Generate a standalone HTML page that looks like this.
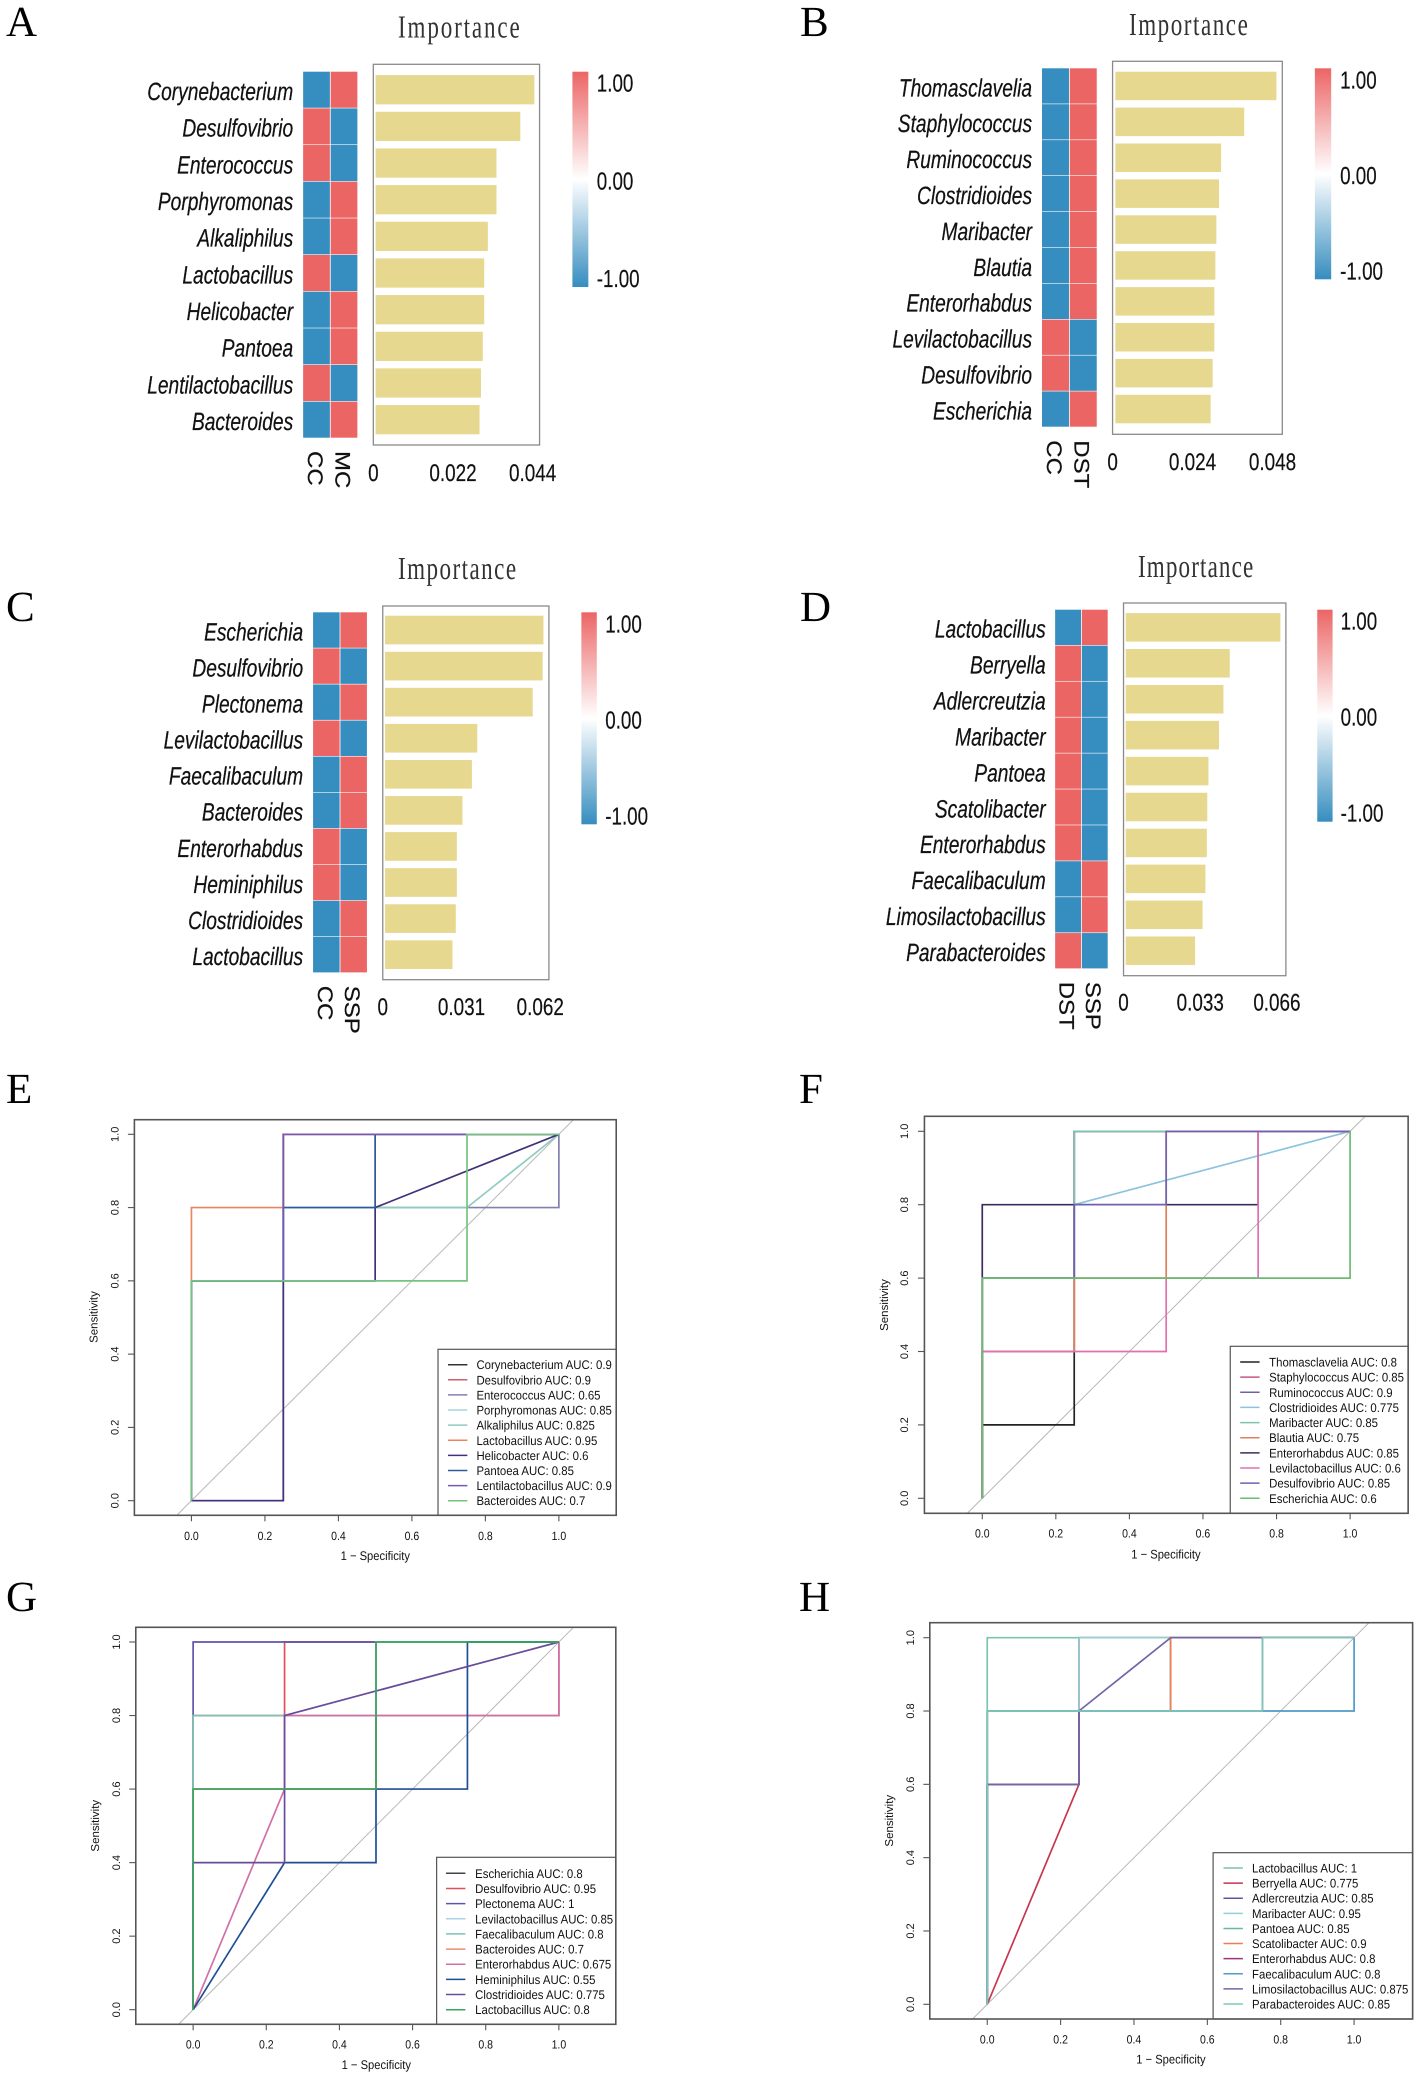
<!DOCTYPE html>
<html lang="en">
<head>
<meta charset="utf-8">
<title>Importance heatmaps and ROC curves</title>
<style>
html,body{margin:0;padding:0;background:#fff;}
body{width:1418px;height:2079px;overflow:hidden;}
svg{display:block;}
text{font-family:"Liberation Sans",sans-serif;fill:#111;text-rendering:geometricPrecision;}
.letter{font-family:"Liberation Serif",serif;font-size:43px;fill:#000;}
.imp{font-family:"Liberation Serif",serif;font-size:32px;fill:#333;}
</style>
</head>
<body>
<svg id="figure" xmlns="http://www.w3.org/2000/svg" width="1418" height="2079" viewBox="0 0 1418 2079">
<defs>
<linearGradient id="cbar" x1="0" y1="0" x2="0" y2="1">
<stop offset="0" stop-color="#ec6565"/><stop offset="0.5" stop-color="#ffffff"/><stop offset="1" stop-color="#368dbf"/>
</linearGradient>
</defs>
<rect width="1418" height="2079" fill="#fff"/>
<text class="letter" x="6" y="36">A</text>
<text class="letter" x="800" y="36">B</text>
<text class="letter" x="6" y="621">C</text>
<text class="letter" x="800" y="621">D</text>
<text class="letter" x="6" y="1103">E</text>
<text class="letter" x="799" y="1103">F</text>
<text class="letter" x="6" y="1611">G</text>
<text class="letter" x="799" y="1611">H</text>
<text class="imp" transform="translate(398,37.5) scale(.72,1)" textLength="169" lengthAdjust="spacing">Importance</text>
<text class="imp" transform="translate(1129,35) scale(.72,1)" textLength="165" lengthAdjust="spacing">Importance</text>
<text class="imp" transform="translate(398,579) scale(.72,1)" textLength="164" lengthAdjust="spacing">Importance</text>
<text class="imp" transform="translate(1138,577) scale(.72,1)" textLength="160" lengthAdjust="spacing">Importance</text>
</svg>
<script>
/* ---------- Panel data: importance charts ---------- */
const panelAGenera = ['Corynebacterium','Desulfovibrio','Enterococcus','Porphyromonas','Alkaliphilus','Lactobacillus','Helicobacter','Pantoea','Lentilactobacillus','Bacteroides'];
const panelAImportance = [0.0440,0.0401,0.0335,0.0335,0.0311,0.0301,0.0301,0.0297,0.0292,0.0288];
const panelAGroups = ['CC','MC'];
const panelAFirst = [-1,1,1,-1,-1,1,-1,-1,1,-1];
const panelASecond = [1,-1,-1,1,1,-1,1,1,-1,1];
const panelATicks = [0,0.022,0.044];
const panelATickLabels = ['0','0.022','0.044'];

const panelBGenera = ['Thomasclavelia','Staphylococcus','Ruminococcus','Clostridioides','Maribacter','Blautia','Enterorhabdus','Levilactobacillus','Desulfovibrio','Escherichia'];
const panelBImportance = [0.0480,0.0384,0.0315,0.0309,0.0301,0.0298,0.0295,0.0295,0.0290,0.0284];
const panelBGroups = ['CC','DST'];
const panelBFirst = [-1,-1,-1,-1,-1,-1,-1,1,1,-1];
const panelBSecond = [1,1,1,1,1,1,1,-1,-1,1];
const panelBTicks = [0,0.024,0.048];
const panelBTickLabels = ['0','0.024','0.048'];

const panelCGenera = ['Escherichia','Desulfovibrio','Plectonema','Levilactobacillus','Faecalibaculum','Bacteroides','Enterorhabdus','Heminiphilus','Clostridioides','Lactobacillus'];
const panelCImportance = [0.0620,0.0617,0.0578,0.0361,0.0340,0.0303,0.0281,0.0281,0.0277,0.0264];
const panelCGroups = ['CC','SSP'];
const panelCFirst = [-1,1,-1,1,-1,-1,1,1,-1,-1];
const panelCSecond = [1,-1,1,-1,1,1,-1,-1,1,1];
const panelCTicks = [0,0.031,0.062];
const panelCTickLabels = ['0','0.031','0.062'];

const panelDGenera = ['Lactobacillus','Berryella','Adlercreutzia','Maribacter','Pantoea','Scatolibacter','Enterorhabdus','Faecalibaculum','Limosilactobacillus','Parabacteroides'];
const panelDImportance = [0.0660,0.0444,0.0417,0.0398,0.0353,0.0348,0.0346,0.0340,0.0328,0.0296];
const panelDGroups = ['DST','SSP'];
const panelDFirst = [-1,1,1,1,1,1,1,-1,-1,1];
const panelDSecond = [1,-1,-1,-1,-1,-1,-1,1,1,-1];
const panelDTicks = [0,0.033,0.066];
const panelDTickLabels = ['0','0.033','0.066'];

const colorbarTicks = [1,0,-1];
const colorbarTickLabels = ['1.00','0.00','-1.00'];

/* ---------- Panel data: ROC charts ---------- */
const rocTicks = [0,0.2,0.4,0.6,0.8,1];
const rocTickLabels = ['0.0','0.2','0.4','0.6','0.8','1.0'];

const rocENames = ['Corynebacterium','Desulfovibrio','Enterococcus','Porphyromonas','Alkaliphilus','Lactobacillus','Helicobacter','Pantoea','Lentilactobacillus','Bacteroides'];
const rocEAuc = ['0.9','0.9','0.65','0.85','0.825','0.95','0.6','0.85','0.9','0.7'];
const rocEColors = ['#333333','#d0606e','#8080b0','#a8d4e6','#8fccc0','#e8845f','#43307a','#2f5a9c','#7559b5','#74c480'];
const rocEFpr = [[0,0,0.25,0.25,1],[0,0,0.25,0.25,1],[0,0.25,0.25,1,1],[0,0,0.25,0.25,0.5,0.5,1],[0,0,0.25,0.25,0.75,1],[0,0,0.25,0.25,1],[0,0.25,0.25,0.5,0.5,1],[0,0,0.25,0.25,0.5,0.5,1],[0,0,0.25,0.25,1],[0,0,0.75,0.75,1]];
const rocETpr = [[0,0.6,0.6,1,1],[0,0.6,0.6,1,1],[0,0,0.8,0.8,1],[0,0.6,0.6,0.8,0.8,1,1],[0,0.6,0.6,0.8,0.8,1],[0,0.8,0.8,1,1],[0,0,0.6,0.6,0.8,1],[0,0.6,0.6,0.8,0.8,1,1],[0,0.6,0.6,1,1],[0,0.6,0.6,1,1]];

const rocFNames = ['Thomasclavelia','Staphylococcus','Ruminococcus','Clostridioides','Maribacter','Blautia','Enterorhabdus','Levilactobacillus','Desulfovibrio','Escherichia'];
const rocFAuc = ['0.8','0.85','0.9','0.775','0.85','0.75','0.85','0.6','0.85','0.6'];
const rocFColors = ['#222222','#c9567f','#6f5fa8','#8cc4e0','#7cc4ae','#e0805a','#3d2c62','#e070b0','#7060b0','#6dbb70'];
const rocFFpr = [[0,0,0.25,0.25,1],[0,0,0.25,0.25,1],[0,0,0.25,0.25,1],[0,0,0.25,0.25,1],[0,0,0.25,0.25,1],[0,0,0.25,0.25,0.5,0.5,1],[0,0,0.75,0.75,1],[0,0,0.5,0.5,0.75,0.75,1],[0,0,0.25,0.25,0.5,0.5,1],[0,0,1,1]];
const rocFTpr = [[0,0.2,0.2,1,1],[0,0.4,0.4,1,1],[0,0.6,0.6,1,1],[0,0.4,0.4,0.8,1],[0,0.4,0.4,1,1],[0,0.4,0.4,0.6,0.6,1,1],[0,0.8,0.8,1,1],[0,0.4,0.4,0.6,0.6,1,1],[0,0.6,0.6,0.8,0.8,1,1],[0,0.6,0.6,1]];

const rocGNames = ['Escherichia','Desulfovibrio','Plectonema','Levilactobacillus','Faecalibaculum','Bacteroides','Enterorhabdus','Heminiphilus','Clostridioides','Lactobacillus'];
const rocGAuc = ['0.8','0.95','1','0.85','0.8','0.7','0.675','0.55','0.775','0.8'];
const rocGColors = ['#444444','#e0505a','#5f55a8','#a8d4e6','#7cc4b4','#e8906f','#d070a8','#1f4e96','#6a4a9a','#3aa560'];
const rocGFpr = [[0,0,0.5,0.5,1],[0,0,0.25,0.25,1],[0,0,1],[0,0,0.25,0.25,0.5,0.5,1],[0,0,1,1],[0,0,0.5,0.5,1,1],[0,0.25,0.25,1,1],[0,0.25,0.5,0.5,0.75,0.75,1],[0,0,0.25,0.25,1],[0,0,0.5,0.5,1]];
const rocGTpr = [[0,0.6,0.6,1,1],[0,0.8,0.8,1,1],[0,1,1],[0,0.6,0.6,0.8,0.8,1,1],[0,0.8,0.8,1],[0,0.6,0.6,0.8,0.8,1],[0,0.6,0.8,0.8,1],[0,0.4,0.4,0.6,0.6,1,1],[0,0.4,0.4,0.8,1],[0,0.6,0.6,1,1]];

const rocHNames = ['Lactobacillus','Berryella','Adlercreutzia','Maribacter','Pantoea','Scatolibacter','Enterorhabdus','Faecalibaculum','Limosilactobacillus','Parabacteroides'];
const rocHAuc = ['1','0.775','0.85','0.95','0.85','0.9','0.8','0.8','0.875','0.85'];
const rocHColors = ['#7cc4ae','#c8354f','#6650a0','#90d0d8','#66bb99','#ee7f55','#a03080','#4f9ac8','#7464a8','#7cc8b8'];
const rocHFpr = [[0,0,1],[0,0.25,0.25,1],[0,0,0.25,0.25,0.5,0.5,1],[0,0,0.25,0.25,1],[0,0,0.25,0.25,0.5,0.5,1],[0,0,0.5,0.5,1],[0,0,0.25,0.25,0.75,0.75,1],[0,0,1,1],[0,0,0.25,0.25,0.5,1],[0,0,0.75,0.75,1]];
const rocHTpr = [[0,1,1],[0,0.6,1,1],[0,0.6,0.6,0.8,0.8,1,1],[0,0.8,0.8,1,1],[0,0.6,0.6,0.8,0.8,1,1],[0,0.8,0.8,1,1],[0,0.6,0.6,0.8,0.8,1,1],[0,0.8,0.8,1],[0,0.6,0.6,0.8,1,1],[0,0.8,0.8,1,1]];

/* ---------- Drawing ---------- */
const figure = document.getElementById('figure');
const NS = 'http://www.w3.org/2000/svg';
const leftColumn = 'scale(.9955,1)';
const rightColumn = 'translate(3.19,0) scale(.9955,1)';
function make(parent, tag, attrs, text) {
  const node = document.createElementNS(NS, tag);
  for (const key in attrs) node.setAttribute(key, attrs[key]);
  if (text !== undefined) node.textContent = text;
  parent.appendChild(node);
  return node;
}
function mix(a, b, t) {
  return a.map((c, i) => Math.round(c + (b[i] - c) * t));
}
function heatColor(v) {
  const red = [236,101,101], blue = [54,141,191], white = [255,255,255];
  const c = v >= 0 ? mix(white, red, Math.min(v, 1)) : mix(white, blue, Math.min(-v, 1));
  return 'rgb(' + c.join(',') + ')';
}

function drawImportance(key, column, frame, genera, importance, groups, first, second, ticks, tickLabels) {
  const g = make(figure, 'g', {transform: column});
  
  
  const rowH = (frame.heatBottom - frame.heatTop) / genera.length;
  const domainMax = ticks[ticks.length - 1];
  const barX = v => frame.barStart + v / domainMax * (frame.barMax - frame.barStart);
  const labelX = v => frame.boxLeft + v / domainMax * (frame.labelMax - frame.boxLeft);
  const cellW = (frame.heatRight - frame.heatLeft) / 2;

  const box = make(g, 'rect', {x: frame.boxLeft, y: frame.boxTop, width: frame.boxRight - frame.boxLeft, height: frame.boxBottom - frame.boxTop, fill: '#fff', stroke: '#8a8a8a', 'stroke-width': 1.3});
  
  

  genera.forEach((name, i) => {
    const top = frame.heatTop + i * rowH;
    const label = make(g, 'text', {transform: 'translate(' + frame.labelRight + ',' + (top + rowH / 2 + 10) + ') scale(.77,1)', 'text-anchor': 'end', 'font-size': 25, 'font-style': 'italic', stroke: '#111', 'stroke-width': 0.25}, name);
    
    

    const cellA = make(g, 'rect', {x: frame.heatLeft, y: top, width: cellW - 0.4, height: rowH - 0.6, fill: heatColor(first[i])});
    
    

    const cellB = make(g, 'rect', {x: frame.heatLeft + cellW + 0.4, y: top, width: cellW - 0.4, height: rowH - 0.6, fill: heatColor(second[i])});
    
    

    const bar = make(g, 'rect', {x: frame.barStart, y: top + 3.4, width: barX(importance[i]) - frame.barStart, height: rowH - 7.4, fill: '#e7d88f'});
    
    
  });

  groups.forEach((name, i) => {
    const cx = frame.heatLeft + cellW * (i + 0.5);
    const col = make(g, 'text', {transform: 'translate(' + (cx - 8.6) + ',' + (frame.boxBottom + 6) + ') rotate(90) scale(1,.88)', 'font-size': 24, stroke: '#111', 'stroke-width': 0.25}, name);
    
    
  });

  ticks.forEach((v, i) => {
    const t = make(g, 'text', {transform: 'translate(' + labelX(v) + ',' + frame.tickBase + ') scale(.79,1)', 'text-anchor': 'middle', 'font-size': 24, stroke: '#111', 'stroke-width': 0.2}, tickLabels[i]);
    
    
  });

  const cb = make(g, 'rect', {x: frame.cbLeft, y: frame.heatTop, width: frame.cbRight - frame.cbLeft, height: frame.cbBottom - frame.heatTop, fill: 'url(#cbar)'});
  
  

  const cbY = v => frame.heatTop + 20 + (1 - v) / 2 * (frame.cbBottom - frame.heatTop - 20);
  colorbarTicks.forEach((v, i) => {
    const t = make(g, 'text', {transform: 'translate(' + frame.cbText + ',' + cbY(v) + ') scale(.77,1)', 'font-size': 24.5, stroke: '#111', 'stroke-width': 0.2}, colorbarTickLabels[i]);
    
    
  });
}

function drawRoc(key, column, frame, names, auc, colors, fpr, tpr) {
  const g = make(figure, 'g', {transform: column});
  
  
  const X = v => frame.x0 + v * (frame.x1 - frame.x0);
  const Y = v => frame.y0 + v * (frame.y1 - frame.y0);

  const diag = make(g, 'line', {x1: X(-0.04), y1: Y(-0.04), x2: X(1.04), y2: Y(1.04), stroke: '#b8b8b8', 'stroke-width': 1});
  
  

  names.forEach((name, i) => {
    const pts = fpr[i].map((v, j) => X(v) + ',' + Y(tpr[i][j])).join(' ');
    const curve = make(g, 'polyline', {points: pts, fill: 'none', stroke: colors[i], 'stroke-width': 1.7, 'stroke-linejoin': 'miter'});
    
    
  });

  const legend = make(g, 'rect', {x: frame.legLeft, y: frame.legTop, width: frame.right - frame.legLeft, height: frame.bottom - frame.legTop, fill: '#fff', stroke: '#555', 'stroke-width': 1.2});
  
  

  const legStep = (frame.legLast - frame.legFirst) / (names.length - 1);
  names.forEach((name, i) => {
    const y = frame.legFirst + i * legStep;
    const key1 = make(g, 'line', {x1: frame.legLine, y1: y, x2: frame.legLine + 19.5, y2: y, stroke: colors[i], 'stroke-width': 1.5});
    
    
    const lab = make(g, 'text', {transform: 'translate(' + frame.legText + ',' + (y + 4.5) + ') scale(.915,1)', 'font-size': 12.5, fill: '#222'}, name + ' AUC: ' + auc[i]);
    
    
  });

  const box = make(g, 'rect', {x: frame.left, y: frame.top, width: frame.right - frame.left, height: frame.bottom - frame.top, fill: 'none', stroke: '#555', 'stroke-width': 1.6});
  
  

  rocTicks.forEach((v, i) => {
    const xt = make(g, 'line', {x1: X(v), y1: frame.bottom, x2: X(v), y2: frame.bottom + 6, stroke: '#555', 'stroke-width': 1.1});
    
    
    const xl = make(g, 'text', {transform: 'translate(' + X(v) + ',' + frame.tickBase + ') scale(.88,1)', 'text-anchor': 'middle', 'font-size': 12, fill: '#222'}, rocTickLabels[i]);
    
    
    const yt = make(g, 'line', {x1: frame.left - 6.5, y1: Y(v), x2: frame.left, y2: Y(v), stroke: '#555', 'stroke-width': 1.1});
    
    
    const yl = make(g, 'text', {transform: 'translate(' + (frame.yTickX + 4.5) + ',' + Y(v) + ') rotate(-90)', 'text-anchor': 'middle', 'font-size': 11, fill: '#222'}, rocTickLabels[i]);
    
    
  });

  const xTitle = make(g, 'text', {transform: 'translate(' + frame.xTitleX + ',' + frame.xTitleY + ') scale(.9,1)', 'text-anchor': 'middle', 'font-size': 12.5, fill: '#222'}, '1 \u2212 Specificity');
  
  
  const yTitle = make(g, 'text', {transform: 'translate(' + (frame.yTitleX + 4) + ',' + frame.yTitleY + ') rotate(-90)', 'text-anchor': 'middle', 'font-size': 11.5, fill: '#222'}, 'Sensitivity');
  
  
}

drawImportance('a', leftColumn, {heatLeft:304.5,heatRight:359,heatTop:71.7,heatBottom:438.3,boxLeft:375,boxRight:542,boxTop:64.3,boxBottom:445,barStart:377.3,barMax:536.8,labelMax:535,labelRight:294.5,tickBase:481,cbLeft:575,cbRight:591,cbBottom:287,cbText:599.5},
  panelAGenera, panelAImportance, panelAGroups, panelAFirst, panelASecond, panelATicks, panelATickLabels);
drawImportance('b', rightColumn, {heatLeft:1043.5,heatRight:1098.5,heatTop:68.3,heatBottom:427.3,boxLeft:1114.4,boxRight:1284.9,boxTop:61.3,boxBottom:434.3,barStart:1117.2,barMax:1279,labelMax:1275,labelRight:1033.5,tickBase:470,cbLeft:1317.6,cbRight:1334,cbBottom:279.3,cbText:1343},
  panelBGenera, panelBImportance, panelBGroups, panelBFirst, panelBSecond, panelBTicks, panelBTickLabels);
drawImportance('c', leftColumn, {heatLeft:314.5,heatRight:368.6,heatTop:612.3,heatBottom:973,boxLeft:384.5,boxRight:551.4,boxTop:606,boxBottom:979.7,barStart:386.8,barMax:545.9,labelMax:542.7,labelRight:304.5,tickBase:1015,cbLeft:584,cbRight:599.5,cbBottom:824.3,cbText:608},
  panelCGenera, panelCImportance, panelCGroups, panelCFirst, panelCSecond, panelCTicks, panelCTickLabels);
drawImportance('d', rightColumn, {heatLeft:1056.7,heatRight:1109.5,heatTop:609.7,heatBottom:969,boxLeft:1125.4,boxRight:1288.5,boxTop:603,boxBottom:975.7,barStart:1127.6,barMax:1283,labelMax:1279.5,labelRight:1047.2,tickBase:1010.7,cbLeft:1320,cbRight:1335.4,cbBottom:821.7,cbText:1343.5},
  panelDGenera, panelDImportance, panelDGroups, panelDFirst, panelDSecond, panelDTicks, panelDTickLabels);

drawRoc('e', leftColumn, {left:135,right:619,top:1119.7,bottom:1515.3,x0:192.3,x1:561.4,y0:1500.7,y1:1134.3,legLeft:440,legTop:1349.3,legFirst:1364.7,legLast:1500.7,legLine:450,legText:478.6,tickBase:1540,yTickX:114.5,xTitleX:377,xTitleY:1560,yTitleX:94,yTitleY:1317},
  rocENames, rocEAuc, rocEColors, rocEFpr, rocETpr);
drawRoc('f', rightColumn, {left:925.4,right:1411.3,top:1116.3,bottom:1513.3,x0:983.5,x1:1353,y0:1498.3,y1:1131.3,legLeft:1232.6,legTop:1346.3,legFirst:1362,legLast:1498.3,legLine:1242.6,legText:1271.7,tickBase:1537.3,yTickX:904.5,xTitleX:1168,xTitleY:1558.3,yTitleX:885,yTitleY:1305},
  rocFNames, rocFAuc, rocFColors, rocFFpr, rocFTpr);
drawRoc('g', leftColumn, {left:136.4,right:618.6,top:1627.3,bottom:2024.3,x0:194,x1:561.4,y0:2009.7,y1:1642,legLeft:438.6,legTop:1857.3,legFirst:1873.3,legLast:2009.7,legLine:448,legText:477.3,tickBase:2048.3,yTickX:116,xTitleX:378,xTitleY:2069,yTitleX:95.5,yTitleY:1825.7},
  rocGNames, rocGAuc, rocGColors, rocGFpr, rocGTpr);
drawRoc('h', rightColumn, {left:930.8,right:1415.8,top:1622.7,bottom:2019,x0:988.5,x1:1357,y0:2004.3,y1:1637.7,legLeft:1215.4,legTop:1852.7,legFirst:1868,legLast:2004,legLine:1225.8,legText:1254.5,tickBase:2043.3,yTickX:910.4,xTitleX:1173,xTitleY:2063.3,yTitleX:890,yTitleY:1820.7},
  rocHNames, rocHAuc, rocHColors, rocHFpr, rocHTpr);
</script>
</body>
</html>
